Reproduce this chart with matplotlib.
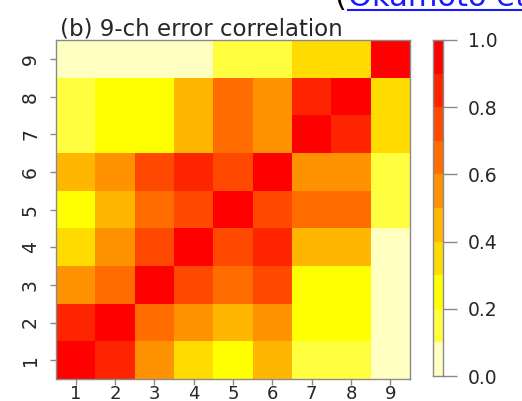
import numpy as np
import matplotlib.pyplot as plt
from matplotlib.colors import ListedColormap, BoundaryNorm
from matplotlib.lines import Line2D

plt.rcParams['font.family'] = ['DejaVu Sans']

# channel numbers and error correlation (row i = channel i, col j = channel j)
channels = [1, 2, 3, 4, 5, 6, 7, 8, 9]
corr = [
    [1.00, 0.85, 0.55, 0.35, 0.25, 0.45, 0.15, 0.15, 0.05],
    [0.85, 1.00, 0.65, 0.52, 0.45, 0.55, 0.25, 0.25, 0.05],
    [0.55, 0.65, 1.00, 0.75, 0.65, 0.75, 0.25, 0.25, 0.05],
    [0.35, 0.52, 0.75, 1.00, 0.75, 0.85, 0.45, 0.45, 0.05],
    [0.25, 0.45, 0.65, 0.75, 1.00, 0.75, 0.65, 0.65, 0.15],
    [0.45, 0.55, 0.75, 0.85, 0.75, 1.00, 0.55, 0.55, 0.15],
    [0.15, 0.25, 0.25, 0.45, 0.65, 0.55, 1.00, 0.85, 0.35],
    [0.15, 0.25, 0.25, 0.45, 0.65, 0.55, 0.85, 1.00, 0.35],
    [0.05, 0.05, 0.05, 0.05, 0.15, 0.15, 0.35, 0.35, 1.00],
]
levels = [0.0, 0.1, 0.2, 0.3, 0.4, 0.5, 0.6, 0.7, 0.8, 0.9, 1.0]
cbar_ticks = [0.0, 0.2, 0.4, 0.6, 0.8, 1.0]
# R heat.colors(10), reversed
heat = ['#FFFFBF', '#FFFF40', '#FFFF00', '#FFDB00', '#FFB600',
        '#FF9200', '#FF6D00', '#FF4900', '#FF2400', '#FF0000']

cmap = ListedColormap(heat)
norm = BoundaryNorm(levels, cmap.N)
frame = '#8a8a8a'
txt = '#262626'

fig = plt.figure(figsize=(5.22, 4.01), dpi=100)
ax = fig.add_axes([0.1073, 0.0549, 0.678, 0.845])
edges = np.arange(len(channels) + 1) + 0.5
ax.pcolormesh(edges, edges, np.array(corr), cmap=cmap, norm=norm)
ax.set_xlim(edges[0], edges[-1])
ax.set_ylim(edges[0], edges[-1])
ax.set_xticks(channels)
ax.set_yticks(channels)
ax.set_xticklabels([str(c) for c in channels])
ax.set_yticklabels([str(c) for c in channels], rotation=90, va='center')
ax.tick_params(length=4.5, width=1, color=frame, labelsize=13.5, labelcolor=txt)
ax.tick_params(axis='x', length=4, pad=0, labelsize=13)
ax.tick_params(axis='y', pad=7)
for s in ax.spines.values():
    s.set_color(frame)
    s.set_linewidth(1)
ax.set_title('(b) 9-ch error correlation', loc='left', fontsize=16.5,
             color=txt, pad=2, x=0.012)

# colour key
cax = fig.add_axes([0.8295, 0.0623, 0.0192, 0.838])
lev = np.array(levels)
cax.pcolormesh([0, 1], lev, ((lev[:-1] + lev[1:]) / 2)[:, None], cmap=cmap, norm=norm)
cax.set_xlim(0, 1)
cax.set_ylim(0, 1)
cax.set_xticks([])
cax.yaxis.tick_right()
cax.set_yticks(cbar_ticks)
cax.set_yticklabels(['%.1f' % t for t in cbar_ticks])
cax.tick_params(axis='y', length=10, width=1, color=frame, labelsize=13.5,
                labelcolor=txt, pad=8)
for s in cax.spines.values():
    s.set_color(frame)
    s.set_linewidth(1)

# citation text running off the top edge
fig.text(0.641, 0.985, '(', fontsize=22, color='black', va='baseline')
fig.text(0.666, 0.985, 'Okamoto et al.', fontsize=22, color='#1a1aff', va='baseline')
fig.add_artist(Line2D([0.666, 1.0], [0.975, 0.975], color='#1a1aff', lw=1.5,
                      transform=fig.transFigure))

fig.savefig('out.png', dpi=100)
